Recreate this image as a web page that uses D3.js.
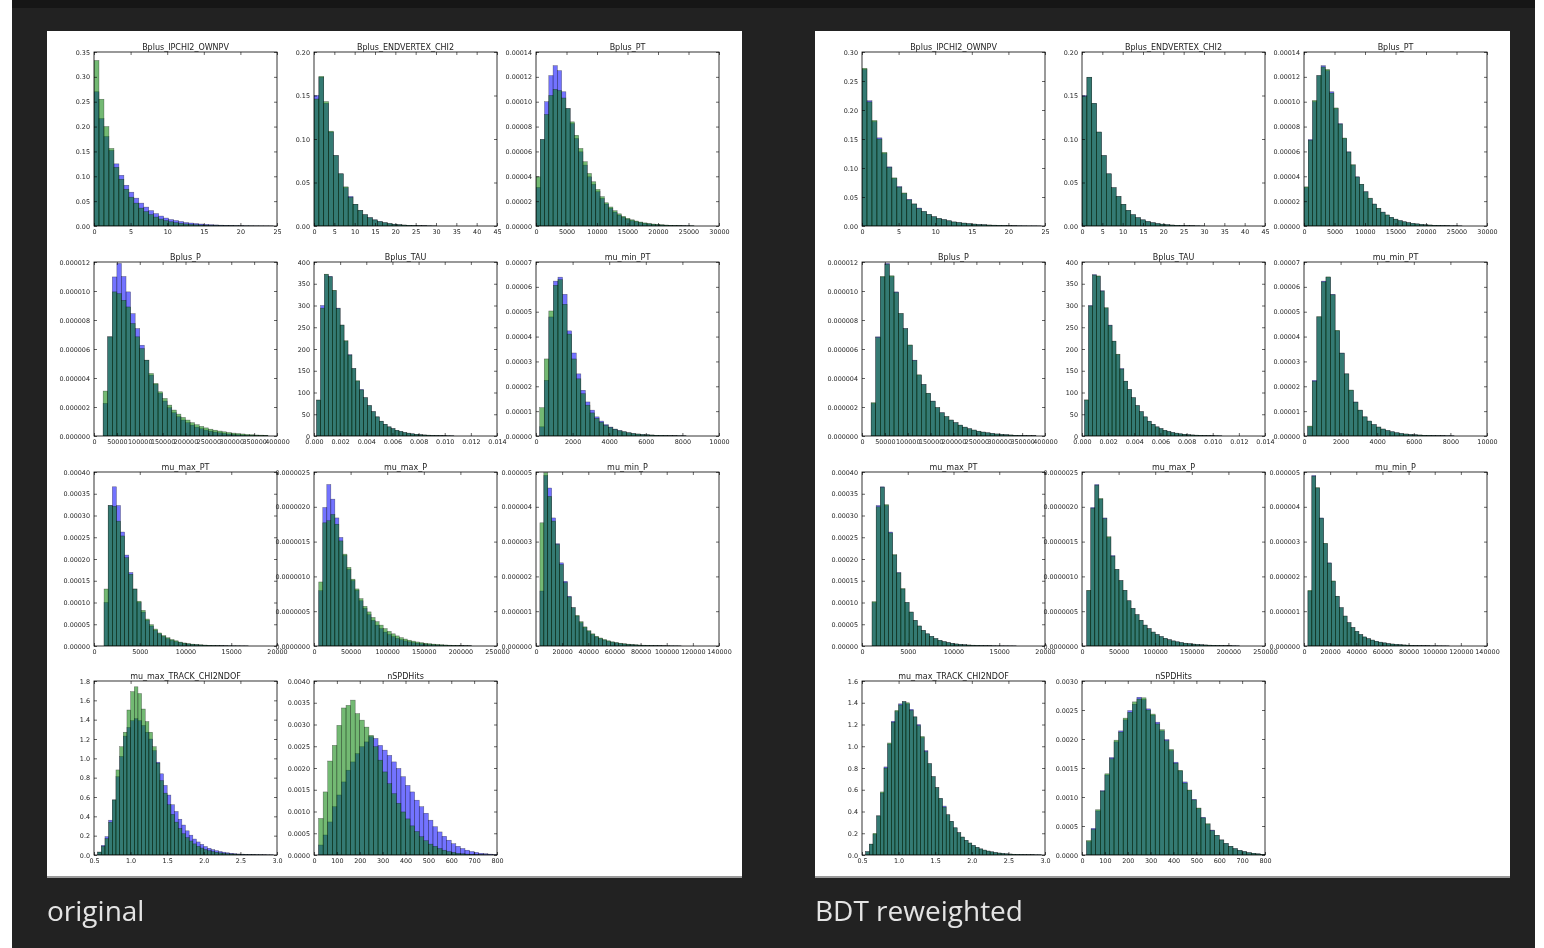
<!DOCTYPE html>
<html>
<head>
<meta charset="utf-8">
<script src="https://cdn.jsdelivr.net/npm/d3@7"></script>
<style>
  html, body { margin: 0; padding: 0; background: #ffffff; }
  svg { display: block; will-change: transform; }
  svg text { -webkit-font-smoothing: antialiased; }
</style>
</head>
<body>
<svg id="fig" width="1544" height="948"></svg>
<script>
// ---------------------------------------------------------------------------
// Histogram data: normalised densities per bin, for the target sample (blue),
// the original simulation (green, left figure) and the BDT-reweighted
// simulation (green, right figure). Values are given in units of valueUnit.
// ---------------------------------------------------------------------------
const variables = [
  "Bplus_IPCHI2_OWNPV", "Bplus_ENDVERTEX_CHI2", "Bplus_PT",
  "Bplus_P", "Bplus_TAU", "mu_min_PT",
  "mu_max_PT", "mu_max_P", "mu_min_P",
  "mu_max_TRACK_CHI2NDOF", "nSPDHits"
];
const binStart  = [0, 0, 0, 20000, 0.0002, 200, 1100, 6500, 3000, 0.55, 20];
const binWidth  = [0.68, 1.2, 700, 10000, 0.0003, 250, 450, 5500, 3000, 0.05, 20];
const valueUnit = [1, 1, 1e-6, 1e-6, 1, 1e-5, 1e-5, 1e-7, 1e-7, 1, 1e-4];

// Bplus_IPCHI2_OWNPV
const ipchi2Target     = [0.270,0.216,0.180,0.152,0.125,0.102,0.082,0.068,0.056,0.046,0.038,0.031,0.025,0.020,0.016,0.013,0.011,0.009,0.007,0.006,0.005,0.004,0.0033,0.0027,0.0022,0.0017,0.0014,0.0011,0.0009,0.0007,0.0005,0.0004,0.0003,0.0002,0.0002,0.0001];
const ipchi2Original   = [0.333,0.255,0.200,0.156,0.118,0.094,0.074,0.058,0.046,0.036,0.029,0.023,0.018,0.014,0.011,0.0085,0.0067,0.0053,0.0042,0.0033,0.0026,0.0021,0.0017,0.0013,0.0011,0.0009,0.0007,0.0006,0.0005,0.0004,0.0003,0.0003,0.0002,0.0002,0.0001,0.0001];
const ipchi2Reweighted = [0.272,0.214,0.182,0.150,0.127,0.101,0.083,0.067,0.057,0.045,0.038,0.030,0.025,0.020,0.016,0.013,0.011,0.009,0.007,0.006,0.005,0.004,0.0033,0.0026,0.0022,0.0017,0.0014,0.0011,0.0009,0.0007,0.0005,0.0004,0.0003,0.0002,0.0002,0.0001];

// Bplus_ENDVERTEX_CHI2
const vtxTarget     = [0.150,0.171,0.141,0.108,0.081,0.060,0.044,0.034,0.025,0.018,0.013,0.0096,0.0071,0.0052,0.0038,0.0028,0.0021,0.0015,0.0011,0.0008,0.0006,0.0004,0.0003,0.0002,0.0001];
const vtxOriginal   = [0.146,0.172,0.143,0.109,0.081,0.060,0.045,0.033,0.025,0.018,0.013,0.0095,0.0070,0.0051,0.0038,0.0028,0.0020,0.0015,0.0011,0.0008,0.0006,0.0004,0.0003,0.0002,0.0001];
const vtxReweighted = [0.149,0.171,0.141,0.108,0.081,0.060,0.044,0.034,0.025,0.018,0.013,0.0096,0.0071,0.0052,0.0038,0.0028,0.0021,0.0015,0.0011,0.0008,0.0006,0.0004,0.0003,0.0002,0.0001];

// Bplus_PT
const bptTarget     = [31,69.6,100,121,129,125,108,94.5,82.4,70.4,59.7,49,39.6,33.5,27.6,22.2,17.7,14.2,11.2,8.8,7.0,5.5,4.3,3.4,2.7,2.1,1.7,1.3,1.0,0.8,0.6,0.5,0.4,0.3,0.2,0.2,0.1];
const bptOriginal   = [39.6,69.6,89.7,105,110,109,103,94.5,83.8,73,62.4,51.7,42.3,35.6,29.4,23.6,18.7,15.3,12.3,9.8,7.8,6.2,5.0,4.0,3.2,2.5,2.0,1.6,1.3,1.0,0.8,0.6,0.5,0.4,0.3,0.2,0.2];
const bptReweighted = [31.5,69,101,121,128,126,107,95,82,70.8,59.5,49.3,39.4,33.6,27.5,22.4,17.6,14.3,11.1,8.9,7.0,5.5,4.3,3.4,2.7,2.1,1.7,1.3,1.0,0.8,0.6,0.5,0.4,0.3,0.2,0.2,0.1];

// Bplus_P
const bpTarget     = [2.25,6.84,10.97,11.9,11.0,9.94,8.44,7.41,6.26,5.23,4.2,3.56,2.94,2.41,1.95,1.61,1.33,1.10,0.92,0.75,0.61,0.50,0.41,0.33,0.27,0.22,0.18,0.14,0.11,0.09,0.07,0.05,0.04,0.03,0.02,0.02];
const bpOriginal   = [3.1,6.84,9.94,9.82,9.36,8.9,7.76,6.84,6.03,5.23,4.31,3.63,3.05,2.59,2.13,1.79,1.51,1.28,1.10,0.92,0.78,0.66,0.56,0.47,0.40,0.34,0.29,0.24,0.20,0.17,0.14,0.11,0.09,0.07,0.06,0.05];
const bpReweighted = [2.3,6.8,11.0,11.85,11.05,9.9,8.45,7.4,6.28,5.2,4.22,3.55,2.95,2.4,1.96,1.6,1.34,1.1,0.92,0.75,0.61,0.5,0.41,0.33,0.27,0.22,0.18,0.14,0.11,0.09,0.07,0.05,0.04,0.03,0.02,0.02];

// Bplus_TAU
const tauTarget     = [82.6,300,371,367,334,294,255,218,187,155,126,107,88,70,56,44,34,27,21,17,13,10.5,8,6.5,5,4,3,2.4,1.9,1.5,1.2,0.9,0.7,0.5,0.4];
const tauOriginal   = [82.6,294,372,366,335,293,255,219,186,155,127,106,88,70,56,44,34,27,21,17,13,10.5,8,6.5,5,4,3,2.4,1.9,1.5,1.2,0.9,0.7,0.5,0.4];
const tauReweighted = [83,299,370,368,333,295,254,218,188,154,126,107,88,70,56,44,34,27,21,17,13,10.5,8,6.5,5,4,3,2.4,1.9,1.5,1.2,0.9,0.7,0.5,0.4];

// mu_min_PT
const muMinPtTarget     = [0.37,2.24,4.79,6.23,6.39,5.70,4.23,3.34,2.50,1.84,1.37,1.04,0.77,0.60,0.46,0.36,0.28,0.22,0.17,0.13,0.10,0.08,0.06,0.05,0.04,0.03,0.025,0.02,0.015,0.012,0.01,0.008];
const muMinPtOriginal   = [1.14,3.10,5.03,6.06,6.29,5.30,4.10,3.10,2.30,1.70,1.24,0.93,0.71,0.55,0.43,0.34,0.27,0.21,0.17,0.13,0.10,0.08,0.06,0.05,0.04,0.03,0.025,0.02,0.015,0.012,0.01,0.008];
const muMinPtReweighted = [0.4,2.2,4.8,6.2,6.4,5.68,4.25,3.33,2.5,1.85,1.36,1.04,0.77,0.6,0.46,0.36,0.28,0.22,0.17,0.13,0.1,0.08,0.06,0.05,0.04,0.03,0.025,0.02,0.015,0.012,0.01,0.008];

// mu_max_PT
const muMaxPtTarget     = [10.0,32.3,36.6,32.3,26.2,20.9,16.9,13.1,10.0,7.8,5.9,4.6,3.6,2.8,2.2,1.7,1.3,1.0,0.8,0.6,0.47,0.37,0.29,0.23,0.18,0.14,0.11,0.09,0.07,0.05,0.04,0.03,0.025,0.02,0.015];
const muMaxPtOriginal   = [13.1,32.3,32.1,28.7,25.3,20.3,16.5,13.1,10.3,8.2,6.2,4.9,3.9,3.0,2.4,1.9,1.5,1.2,0.9,0.7,0.55,0.43,0.34,0.27,0.21,0.17,0.13,0.10,0.08,0.06,0.05,0.04,0.03,0.02,0.02];
const muMaxPtReweighted = [10.2,32,36.5,32.5,26,21,16.8,13.2,10,7.8,5.9,4.6,3.6,2.8,2.2,1.7,1.3,1.0,0.8,0.6,0.47,0.37,0.29,0.23,0.18,0.14,0.11,0.09,0.07,0.05,0.04,0.03,0.025,0.02,0.015];

// mu_max_P
const muMaxPTarget     = [7.95,19.9,23.2,21.1,18.4,15.6,13.0,11.0,9.4,8.0,6.5,5.4,4.5,3.7,3.0,2.5,2.0,1.65,1.35,1.1,0.9,0.73,0.6,0.49,0.4,0.33,0.27,0.22,0.18,0.15,0.12,0.1,0.08,0.06,0.05,0.04,0.03,0.02];
const muMaxPOriginal   = [9.2,17.7,18.0,18.9,17.5,15.1,13.2,11.3,9.6,8.2,6.8,5.7,4.9,4.1,3.5,3.0,2.5,2.1,1.75,1.45,1.2,1.0,0.83,0.7,0.58,0.48,0.4,0.33,0.27,0.22,0.18,0.15,0.12,0.1,0.08,0.06,0.05,0.04];
const muMaxPReweighted = [8,19.8,23.1,21.2,18.3,15.7,12.9,11.0,9.4,8.0,6.5,5.4,4.5,3.7,3.0,2.5,2.0,1.65,1.35,1.1,0.9,0.73,0.6,0.49,0.4,0.33,0.27,0.22,0.18,0.15,0.12,0.1,0.08,0.06,0.05,0.04,0.03,0.02];

// mu_min_P
const muMinPTarget     = [15.8,49,45.4,36.8,29.4,23.9,18.6,14.3,11.0,8.6,6.7,5.3,4.2,3.3,2.6,2.1,1.7,1.35,1.1,0.9,0.7,0.57,0.46,0.37,0.3,0.24,0.19,0.15,0.12,0.1,0.08,0.06,0.05,0.04,0.03,0.02];
const muMinPOriginal   = [35.4,49.8,43.0,35.9,29.2,23.4,18.2,14.1,11.0,8.8,7.0,5.5,4.4,3.5,2.8,2.3,1.85,1.5,1.2,1.0,0.8,0.65,0.53,0.43,0.35,0.28,0.23,0.19,0.15,0.12,0.1,0.08,0.06,0.05,0.04,0.03];
const muMinPReweighted = [16,48.8,45.5,36.7,29.5,23.8,18.7,14.3,11.0,8.6,6.7,5.3,4.2,3.3,2.6,2.1,1.7,1.35,1.1,0.9,0.7,0.57,0.46,0.37,0.3,0.24,0.19,0.15,0.12,0.1,0.08,0.06,0.05,0.04,0.03,0.02];

// mu_max_TRACK_CHI2NDOF
const trkTarget     = [0.03,0.10,0.19,0.36,0.57,0.81,1.02,1.23,1.32,1.39,1.41,1.39,1.34,1.27,1.20,1.08,0.96,0.84,0.72,0.62,0.52,0.45,0.37,0.31,0.25,0.205,0.165,0.135,0.11,0.088,0.07,0.056,0.045,0.036,0.029,0.023,0.018,0.014,0.011,0.009,0.007,0.006,0.005,0.004,0.003,0.003,0.002,0.002];
const trkOriginal   = [0.03,0.09,0.17,0.34,0.57,0.88,1.12,1.27,1.50,1.69,1.74,1.67,1.51,1.38,1.27,1.12,0.95,0.77,0.64,0.52,0.42,0.34,0.275,0.22,0.18,0.145,0.115,0.09,0.072,0.057,0.045,0.036,0.028,0.022,0.018,0.014,0.011,0.009,0.007,0.005,0.004,0.003,0.003,0.002,0.002,0.001,0.001,0.001];
const trkReweighted = [0.03,0.1,0.2,0.36,0.58,0.8,1.03,1.22,1.33,1.38,1.41,1.40,1.33,1.27,1.19,1.09,0.95,0.84,0.72,0.62,0.52,0.44,0.37,0.31,0.25,0.205,0.165,0.135,0.11,0.088,0.07,0.056,0.045,0.036,0.029,0.023,0.018,0.014,0.011,0.009,0.007,0.006,0.005,0.004,0.003,0.003,0.002,0.002];

// nSPDHits
const spdTarget     = [2.3,4.6,7.6,11.1,13.8,16.8,19.5,21.4,23.3,24.9,26.0,27.2,26.8,25.2,24.1,22.9,21.4,19.9,18.0,16.0,14.5,12.6,11.1,9.6,8.0,6.5,5.3,4.3,3.4,2.6,2.0,1.5,1.1,0.8,0.6,0.4,0.3,0.2,0.1];
const spdOriginal   = [8.4,14.5,21.6,25.2,29.8,33.8,34.4,35.6,32.5,31.0,29.4,27.5,24.9,21.8,19.1,16.4,14.1,11.9,9.9,8.3,6.7,5.4,4.2,3.3,2.5,2.0,1.5,1.1,0.8,0.6,0.4,0.3,0.2,0.15,0.1,0.07,0.05,0.03,0.02];
const spdReweighted = [2.5,4.4,7.8,11.0,14.0,16.6,19.8,21.2,23.6,24.6,26.4,26.9,27.1,25.0,24.3,22.6,21.6,19.7,18.2,15.8,14.6,12.4,11.2,9.5,8.1,6.4,5.4,4.2,3.4,2.6,2.0,1.5,1.1,0.8,0.6,0.4,0.3,0.2,0.1];

const targetHists     = [ipchi2Target, vtxTarget, bptTarget, bpTarget, tauTarget, muMinPtTarget, muMaxPtTarget, muMaxPTarget, muMinPTarget, trkTarget, spdTarget];
const originalHists   = [ipchi2Original, vtxOriginal, bptOriginal, bpOriginal, tauOriginal, muMinPtOriginal, muMaxPtOriginal, muMaxPOriginal, muMinPOriginal, trkOriginal, spdOriginal];
const reweightedHists = [ipchi2Reweighted, vtxReweighted, bptReweighted, bpReweighted, tauReweighted, muMinPtReweighted, muMaxPtReweighted, muMaxPReweighted, muMinPReweighted, trkReweighted, spdReweighted];

// Tick labels
const xTicks = [
  ["0","5","10","15","20","25"],
  ["0","5","10","15","20","25","30","35","40","45"],
  ["0","5000","10000","15000","20000","25000","30000"],
  ["0","50000","100000","150000","200000","250000","300000","350000","400000"],
  ["0.000","0.002","0.004","0.006","0.008","0.010","0.012","0.014"],
  ["0","2000","4000","6000","8000","10000"],
  ["0","5000","10000","15000","20000"],
  ["0","50000","100000","150000","200000","250000"],
  ["0","20000","40000","60000","80000","100000","120000","140000"],
  ["0.5","1.0","1.5","2.0","2.5","3.0"],
  ["0","100","200","300","400","500","600","700","800"]
];
const yTicksIpchi2   = ["0.00","0.05","0.10","0.15","0.20","0.25","0.30","0.35"];
const yTicksIpchi2Rw = ["0.00","0.05","0.10","0.15","0.20","0.25","0.30"];
const yTicksVtx      = ["0.00","0.05","0.10","0.15","0.20"];
const yTicksBpt      = ["0.00000","0.00002","0.00004","0.00006","0.00008","0.00010","0.00012","0.00014"];
const yTicksBp       = ["0.000000","0.000002","0.000004","0.000006","0.000008","0.000010","0.000012"];
const yTicksTau      = ["0","50","100","150","200","250","300","350","400"];
const yTicksMuMinPt  = ["0.00000","0.00001","0.00002","0.00003","0.00004","0.00005","0.00006","0.00007"];
const yTicksMuMaxPt  = ["0.00000","0.00005","0.00010","0.00015","0.00020","0.00025","0.00030","0.00035","0.00040"];
const yTicksMuMaxP   = ["0.0000000","0.0000005","0.0000010","0.0000015","0.0000020","0.0000025"];
const yTicksMuMinP   = ["0.000000","0.000001","0.000002","0.000003","0.000004","0.000005"];
const yTicksTrk      = ["0.0","0.2","0.4","0.6","0.8","1.0","1.2","1.4","1.6","1.8"];
const yTicksTrkRw    = ["0.0","0.2","0.4","0.6","0.8","1.0","1.2","1.4","1.6"];
const yTicksSpd      = ["0.0000","0.0005","0.0010","0.0015","0.0020","0.0025","0.0030","0.0035","0.0040"];
const yTicksSpdRw    = ["0.0000","0.0005","0.0010","0.0015","0.0020","0.0025","0.0030"];

const yTicksOriginal   = [yTicksIpchi2, yTicksVtx, yTicksBpt, yTicksBp, yTicksTau, yTicksMuMinPt, yTicksMuMaxPt, yTicksMuMaxP, yTicksMuMinP, yTicksTrk, yTicksSpd];
const yTicksReweighted = [yTicksIpchi2Rw, yTicksVtx, yTicksBpt, yTicksBp, yTicksTau, yTicksMuMinPt, yTicksMuMaxPt, yTicksMuMaxP, yTicksMuMinP, yTicksTrkRw, yTicksSpdRw];

const figureCaptions = ["original", "BDT reweighted"];

// ---------------------------------------------------------------------------
// Layout
// ---------------------------------------------------------------------------
const H = 948;
const panelX = [47, 815], panelY = 31, panelW = 695, panelH = 845;
const colX = [47, 267, 489], rowY = [21, 231, 441, 650];
const axW = 183, axH = 174;
const TICK_FONT = "DejaVu Sans, Bitstream Vera Sans, sans-serif";

const svg = d3.select("#fig");

// dark page backdrop
svg.append("rect").attr("x", 12).attr("y", 0).attr("width", 1523).attr("height", H).attr("fill", "#222222");
svg.append("rect").attr("x", 12).attr("y", 0).attr("width", 1523).attr("height", 8).attr("fill", "#161616");

const panels = [
  { x0: panelX[0], green: originalHists,   yTicks: yTicksOriginal,   caption: figureCaptions[0] },
  { x0: panelX[1], green: reweightedHists, yTicks: yTicksReweighted, caption: figureCaptions[1] }
];

panels.forEach((p, pi) => {
  // white figure card with a faint drop shadow
  svg.append("rect").attr("x", p.x0).attr("y", panelY + 2).attr("width", panelW).attr("height", panelH)
     .attr("fill", "#9a9a9a");
  svg.append("rect").attr("x", p.x0).attr("y", panelY).attr("width", panelW).attr("height", panelH)
     .attr("fill", "#ffffff");

  svg.append("text")
     .attr("x", p.x0).attr("y", 921)
     .attr("font-family", "Open Sans, Noto Sans, sans-serif")
     .attr("font-size", 28)
     .attr("fill", "#e4e4e4")
     .text(p.caption);

  variables.forEach((name, i) => {
    const col = i % 3, row = Math.floor(i / 3);
    const gx = p.x0 + colX[col], gy = panelY + rowY[row];
    const g = svg.append("g").attr("transform", `translate(${gx},${gy})`);

    const xt = xTicks[i], yt = p.yTicks[i];
    const x = d3.scaleLinear().domain([+xt[0], +xt[xt.length - 1]]).range([0, axW]);
    const y = d3.scaleLinear().domain([+yt[0], +yt[yt.length - 1]]).range([axH, 0]);

    const clipId = `clip-${pi}-${i}`;
    g.append("clipPath").attr("id", clipId)
      .append("rect").attr("width", axW).attr("height", axH);

    const bars = g.append("g").attr("clip-path", `url(#${clipId})`);

    const toBins = vals => vals.map((v, k) => ({
      x0: binStart[i] + k * binWidth[i],
      x1: binStart[i] + (k + 1) * binWidth[i],
      v: v * valueUnit[i]
    }));

    const series = [
      { bins: toBins(targetHists[i]), fill: "#0000ff" },
      { bins: toBins(p.green[i]),     fill: "#008000" }
    ];

    series.forEach(s => {
      bars.append("g")
        .selectAll("rect")
        .data(s.bins)
        .join("rect")
        .attr("x", d => x(d.x0))
        .attr("width", d => Math.max(0, x(d.x1) - x(d.x0)))
        .attr("y", d => y(d.v))
        .attr("height", d => axH - y(d.v))
        .attr("fill", s.fill)
        .attr("fill-opacity", 0.55)
        .attr("stroke", "#000")
        .attr("stroke-opacity", 0.5)
        .attr("stroke-width", 0.5);
    });

    // axes with inward ticks on all four sides
    const fmtX = (d, k) => xt[k];
    const fmtY = (d, k) => yt[k];
    const styleAxis = sel => {
      sel.select(".domain").remove();
      sel.selectAll("line").attr("stroke", "#000").attr("stroke-width", 0.6);
      sel.selectAll("text").attr("font-family", TICK_FONT).attr("font-size", 6.4).attr("fill", "#222");
    };

    g.append("g").attr("transform", `translate(0,${axH})`)
      .call(d3.axisBottom(x).tickValues(xt.map(Number)).tickFormat(fmtX).tickSizeInner(-3).tickSizeOuter(0).tickPadding(3.5))
      .call(styleAxis);
    g.append("g")
      .call(d3.axisTop(x).tickValues(xt.map(Number)).tickFormat("").tickSizeInner(-3).tickSizeOuter(0))
      .call(styleAxis);
    g.append("g")
      .call(d3.axisLeft(y).tickValues(yt.map(Number)).tickFormat(fmtY).tickSizeInner(-3).tickSizeOuter(0).tickPadding(4))
      .call(styleAxis);
    g.append("g").attr("transform", `translate(${axW},0)`)
      .call(d3.axisRight(y).tickValues(yt.map(Number)).tickFormat("").tickSizeInner(-3).tickSizeOuter(0))
      .call(styleAxis);

    g.append("rect").attr("width", axW).attr("height", axH)
      .attr("fill", "none").attr("stroke", "#000").attr("stroke-width", 0.8);

    g.append("text")
      .attr("x", axW / 2).attr("y", -2)
      .attr("text-anchor", "middle")
      .attr("font-family", TICK_FONT)
      .attr("font-size", 8)
      .attr("fill", "#222")
      .text(name);
  });
});
</script>
</body>
</html>
